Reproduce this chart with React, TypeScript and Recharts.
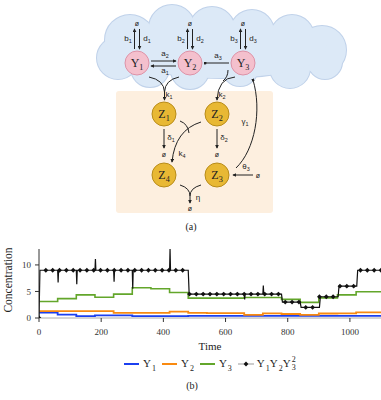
import { LineChart, Line, XAxis, YAxis } from "recharts";

const SERIF = "'Liberation Serif', 'Times New Roman', serif";
const SANS = "'Liberation Sans', Arial, sans-serif";

// ---- chart (b) data ----
const timeTicks = [0, 200, 400, 600, 800, 1000];
const concTicks = [0, 5, 10];

const y1Steps = [
  [0, 1.0], [60, 0.65], [120, 0.35], [180, 0.5], [300, 0.35], [480, 0.4], [1100, 0.4],
];
const y2Steps = [
  [0, 1.3], [240, 0.95], [420, 1.2], [480, 0.95], [540, 0.9], [660, 0.6], [720, 0.88],
  [780, 0.75], [840, 0.6], [900, 0.85], [960, 0.88], [1020, 1.07], [1100, 1.07],
];
const y3Steps = [
  [0, 3.1], [60, 3.65], [120, 4.35], [180, 3.9], [240, 4.5], [300, 5.7], [360, 5.5],
  [420, 4.8], [480, 3.75], [660, 3.85], [780, 3.5], [840, 2.95], [900, 3.8], [960, 4.35],
  [1020, 4.95], [1100, 4.95],
];
// product Y1 Y2 Y3^2: plateau levels, short transients at switching times
const prodLevels = [
  [0, 9], [480, 4.5], [780, 3], [840, 2], [902, 4], [962, 6], [1022, 9],
];
const prodSpikes = [
  [60, 6.7], [120, 6.35], [180, 11.1], [240, 6.85], [300, 5.5], [420, 13], [660, 3.5], [720, 6.1],
];
const markerStep = 22;

const toPoints = (steps: number[][]) => steps.map(([t, v]) => ({ t, v }));

const levelAt = (t: number) => {
  let v = 0;
  prodLevels.forEach(([t0, lvl]) => {
    if (t0 <= t) v = lvl;
  });
  return v;
};

function buildProduct() {
  const pts: { t: number; v: number }[] = [{ t: 0, v: 0 }];
  prodLevels.forEach(([t0, lvl], i) => {
    if (i > 0) pts.push({ t: t0, v: prodLevels[i - 1][1] });
    pts.push({ t: t0 + 3, v: lvl });
  });
  prodSpikes.forEach(([ts, peak]) => {
    const lvl = levelAt(ts);
    pts.push({ t: ts, v: lvl }, { t: ts + 1.5, v: peak }, { t: ts + 3, v: lvl });
  });
  pts.push({ t: 1100, v: levelAt(1100) });
  return pts.sort((a, b) => a.t - b.t);
}

const y1Data = toPoints(y1Steps);
const y2Data = toPoints(y2Steps);
const y3Data = toPoints(y3Steps);
const prodData = buildProduct();
const markerData = Array.from({ length: 51 }, (_, i) => i * markerStep).map((t) => ({
  t,
  v: t < 3 ? 0 : levelAt(t),
}));

const COLORS = { y1: "#1b3ff0", y2: "#f98a10", y3: "#63a62b", prod: "#111" };

// ---- diagram (a) layout ----
const cloudCircles = [
  [130, 40, 25], [118, 58, 21], [172, 28, 23], [212, 30, 23], [252, 32, 22], [292, 37, 22],
  [322, 50, 24], [325, 62, 17], [150, 68, 19], [190, 70, 19], [240, 68, 18], [290, 68, 20],
];
const yNodes = [
  { n: "1", x: 137, y: 63 },
  { n: "2", x: 190, y: 63 },
  { n: "3", x: 243, y: 63 },
];
const zNodes = [
  { n: "1", x: 164, y: 114 },
  { n: "2", x: 217, y: 114 },
  { n: "4", x: 164, y: 175 },
  { n: "3", x: 217, y: 175 },
];
// straight arrows [x1, y1, x2, y2, head]
const straightArrows: [number, number, number, number, string][] = [
  [151, 61, 176, 61, "arr"],
  [176, 66, 151, 66, "arr"],
  [229, 63, 205, 63, "dot"],
  [164, 129, 164, 148, "arr"],
  [217, 129, 217, 148, "arr"],
  [253, 175, 233, 175, "arr"],
];
// curved edges [path, head]
const curves: [string, string][] = [
  ["M149 77 Q164 80 164.5 92", ""],
  ["M179 77 Q165 80 164.5 92 L164.5 100", "arr"],
  ["M235 77 Q218 78 217 100", "arr"],
  ["M228 70 Q228 77 223 81", ""],
  ["M236 168 C255 150 262 110 253 80", "dot"],
  ["M201 122 Q175 130 172 162", "arr"],
  ["M180 121 Q188 124 189 133", ""],
  ["M180 185 Q190 188 190 196", ""],
  ["M201 185 Q190 188 190 196 L190 203", "arr"],
];
// rate labels [x, y, base, sub]
const rateLabels: [number, number, string, string][] = [
  [165, 56, "a", "2"],
  [165, 73, "a", "1"],
  [218, 58, "a", "3"],
  [169, 97, "k", "1"],
  [222, 97, "k", "2"],
  [245, 124, "γ", "1"],
  [171, 140, "δ", "1"],
  [224, 140, "δ", "2"],
  [182, 156, "k", "4"],
  [246, 169, "θ", "3"],
];
const empties = [
  [164, 154], [217, 154], [258, 175], [190, 208],
];

function SubText({ x, y, base, sub, size, family, anchor = "middle" }: any) {
  return (
    <text x={x} y={y} fontSize={size} fontFamily={family} textAnchor={anchor} fill="#222">
      {base}
      <tspan fontSize={size * 0.68} dy={size * 0.25}>
        {sub}
      </tspan>
    </text>
  );
}

function Diagram() {
  return (
    <svg width={381} height={240} style={{ position: "absolute", left: 0, top: 0 }}>
      <defs>
        <marker id="arr" viewBox="0 0 6 6" refX="5" refY="3" markerWidth="4" markerHeight="4" orient="auto">
          <path d="M0,0 L6,3 L0,6 z" fill="#222" />
        </marker>
        <marker id="dot" viewBox="0 0 6 6" refX="3" refY="3" markerWidth="3" markerHeight="3" orient="auto">
          <circle cx={3} cy={3} r={3} fill="#222" />
        </marker>
      </defs>
      <rect x={116} y={91} width={157} height={122} rx={3} fill="#fdefdf" />
      {cloudCircles.map(([cx, cy, r], i) => (
        <circle key={"cs" + i} cx={cx} cy={cy} r={r} fill="#dce9f7" stroke="#c0d2ea" strokeWidth={2} />
      ))}
      <ellipse cx={222} cy={50} rx={104} ry={28} fill="#dce9f7" stroke="#c0d2ea" strokeWidth={2} />
      {cloudCircles.map(([cx, cy, r], i) => (
        <circle key={"cf" + i} cx={cx} cy={cy} r={r} fill="#dce9f7" />
      ))}
      <ellipse cx={222} cy={50} rx={104} ry={28} fill="#dce9f7" />

      {yNodes.map((nd) => (
        <g key={"bd" + nd.n}>
          <line x1={nd.x - 2.5} y1={49} x2={nd.x - 2.5} y2={29} stroke="#222" strokeWidth={1} markerEnd="url(#arr)" />
          <line x1={nd.x + 2.5} y1={29} x2={nd.x + 2.5} y2={49} stroke="#222" strokeWidth={1} markerEnd="url(#arr)" />
          <text x={nd.x} y={26} fontSize={7} fontFamily={SANS} textAnchor="middle" fill="#222">ø</text>
          <SubText x={nd.x - 9} y={41} base="b" sub={nd.n} size={8} family={SANS} />
          <SubText x={nd.x + 10} y={41} base="d" sub={nd.n} size={8} family={SANS} />
        </g>
      ))}

      {straightArrows.map(([x1, y1, x2, y2, head], i) => (
        <line key={"sa" + i} x1={x1} y1={y1} x2={x2} y2={y2} stroke="#222" strokeWidth={1} markerEnd={`url(#${head})`} />
      ))}
      {curves.map(([d, head], i) => (
        <path key={"cv" + i} d={d} fill="none" stroke="#222" strokeWidth={1} markerEnd={head ? `url(#${head})` : undefined} />
      ))}
      {rateLabels.map(([x, y, b, s], i) => (
        <SubText key={"rl" + i} x={x} y={y} base={b} sub={s} size={8} family={SANS} />
      ))}
      <text x={198} y={200} fontSize={8} fontFamily={SANS} fill="#222" textAnchor="middle">η</text>
      {empties.map(([x, y], i) => (
        <text key={"em" + i} x={x} y={y + 2.5} fontSize={7} fontFamily={SANS} textAnchor="middle" fill="#222">ø</text>
      ))}

      {yNodes.map((nd) => (
        <g key={"y" + nd.n}>
          <circle cx={nd.x} cy={nd.y} r={12} fill="#f4c0cd" stroke="#dd93a8" strokeWidth={1} />
          <SubText x={nd.x} y={nd.y + 4} base="Y" sub={nd.n} size={12} family={SERIF} />
        </g>
      ))}
      {zNodes.map((nd) => (
        <g key={"z" + nd.n}>
          <circle cx={nd.x} cy={nd.y} r={12} fill="#e8b834" stroke="#b88c1a" strokeWidth={1} />
          <SubText x={nd.x} y={nd.y + 4} base="Z" sub={nd.n} size={12} family={SERIF} />
        </g>
      ))}
      <text x={191} y={230} fontSize={10} fontFamily={SERIF} textAnchor="middle" fill="#222">(a)</text>
    </svg>
  );
}

const Diamond = (props: any) => {
  const { cx, cy } = props;
  if (cx == null || cy == null) return null;
  const s = 2.4;
  return <path d={`M${cx},${cy - s} L${cx + s},${cy} L${cx},${cy + s} L${cx - s},${cy} z`} fill="#111" />;
};

const Sub = ({ children }: any) => (
  <span style={{ fontSize: 8, position: "relative", top: 4, marginLeft: 1 }}>{children}</span>
);

function Swatch({ color }: { color: string }) {
  return <span style={{ display: "inline-block", width: 15, borderTop: `2px solid ${color}`, marginRight: 4 }} />;
}

function Legend() {
  return (
    <div
      style={{
        position: "absolute",
        top: 356,
        left: 124,
        display: "flex",
        alignItems: "center",
        fontFamily: SERIF,
        fontSize: 11,
        color: "#222",
        whiteSpace: "nowrap",
        lineHeight: "14px",
      }}
    >
      <Swatch color={COLORS.y1} />
      <span style={{ marginRight: 6 }}>Y<Sub>1</Sub></span>
      <Swatch color={COLORS.y2} />
      <span style={{ marginRight: 6 }}>Y<Sub>2</Sub></span>
      <Swatch color={COLORS.y3} />
      <span style={{ marginRight: 6 }}>Y<Sub>3</Sub></span>
      <svg width={16} height={8} style={{ marginRight: 3 }}>
        <line x1={0} y1={4} x2={16} y2={4} stroke="#bbb" strokeWidth={1.5} />
        <path d="M8,1.6 L10.4,4 L8,6.4 L5.6,4 z" fill="#111" />
      </svg>
      <span>
        Y<Sub>1</Sub>Y<Sub>2</Sub>Y
        <span
          style={{
            display: "inline-flex",
            flexDirection: "column",
            fontSize: 8,
            lineHeight: "8px",
            verticalAlign: "middle",
            marginLeft: 1,
          }}
        >
          <span>2</span>
          <span>3</span>
        </span>
      </span>
    </div>
  );
}

export default function App() {
  const tickStyle = { fontSize: 9, fill: "#333", fontFamily: SERIF };
  return (
    <div style={{ position: "absolute", left: 0, top: 0, width: 381, height: 400, background: "#fff" }}>
      <Diagram />
      <div style={{ position: "absolute", left: 0, top: 240 }}>
        <LineChart width={381} height={98} margin={{ top: 9, right: 0, bottom: 0, left: 0 }}>
          <XAxis
            type="number"
            dataKey="t"
            domain={[0, 1100]}
            ticks={timeTicks}
            interval={0}
            allowDataOverflow
            height={20}
            axisLine={{ stroke: "#aaa" }}
            tickLine={{ stroke: "#333" }}
            tickSize={4}
            tickMargin={7}
            tick={tickStyle}
          />
          <YAxis
            type="number"
            dataKey="v"
            domain={[0, 13]}
            ticks={concTicks}
            interval={0}
            allowDataOverflow
            width={39}
            axisLine={{ stroke: "#333" }}
            tickLine={{ stroke: "#333" }}
            tickSize={4}
            tickMargin={4}
            tick={tickStyle}
          />
          <Line data={y1Data} dataKey="v" type="stepAfter" stroke={COLORS.y1} strokeWidth={1.8} dot={false} isAnimationActive={false} />
          <Line data={y2Data} dataKey="v" type="stepAfter" stroke={COLORS.y2} strokeWidth={1.8} dot={false} isAnimationActive={false} />
          <Line data={y3Data} dataKey="v" type="stepAfter" stroke={COLORS.y3} strokeWidth={1.6} dot={false} isAnimationActive={false} />
          <Line data={prodData} dataKey="v" type="linear" stroke={COLORS.prod} strokeWidth={1.2} dot={false} isAnimationActive={false} />
          <Line data={markerData} dataKey="v" type="linear" stroke="none" dot={<Diamond />} isAnimationActive={false} />
        </LineChart>
      </div>
      <div
        style={{
          position: "absolute",
          left: 7.5,
          top: 280,
          transform: "translate(-50%, -50%) rotate(-90deg)",
          fontFamily: SERIF,
          fontSize: 11.5,
          color: "#222",
          whiteSpace: "nowrap",
        }}
      >
        Concentration
      </div>
      <div
        style={{
          position: "absolute",
          left: 210,
          top: 346,
          transform: "translate(-50%, -50%)",
          fontFamily: SERIF,
          fontSize: 11,
          color: "#222",
        }}
      >
        Time
      </div>
      <Legend />
      <div
        style={{
          position: "absolute",
          left: 192,
          top: 385,
          transform: "translate(-50%, -50%)",
          fontFamily: SERIF,
          fontSize: 10,
          color: "#222",
        }}
      >
        (b)
      </div>
    </div>
  );
}
